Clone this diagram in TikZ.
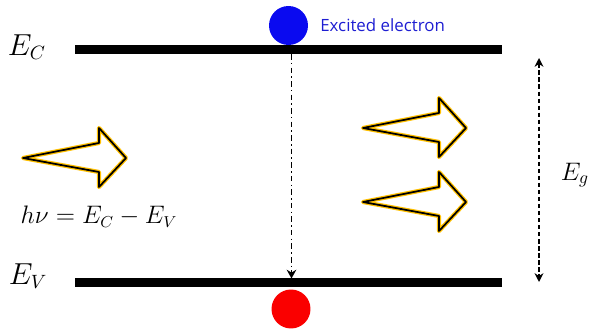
\documentclass[tikz,border=0pt]{standalone}
\usepackage{fontspec}
\usepackage{tikz}
\usetikzlibrary{calc,positioning,arrows.meta}
\newfontfamily\labelfont{Open Sans}
\definecolor{myblue}{RGB}{10,10,240}
\definecolor{myred}{RGB}{250,0,0}
\definecolor{mygold}{RGB}{255,192,0}
\definecolor{mytext}{RGB}{30,30,210}

\tikzset{
  band/.style={line width=5.1pt},
  carrier/.style={circle, inner sep=0pt, minimum size=0.78cm},
  photon/.style={line width=1pt, line join=round},
  glow/.style={line width=2.4pt, mygold, line join=round}
}

\begin{document}
\begin{tikzpicture}[x=0.02cm, y=-0.02cm]
  \useasboundingbox (0,0) rectangle (592,334);
  % bands
  \coordinate (cl) at (75,49.5);
  \coordinate (cr) at (502,49.5);
  \coordinate (vl) at (75,282.5);
  \coordinate (vr) at (502,282.5);
  \draw[band] (cl) -- (cr);
  \draw[band] (vl) -- (vr);
  \node (ec) at (27,47) {\fontsize{16}{19}\selectfont $E_C$};
  \node (ev) at (28,276) {\fontsize{16}{19}\selectfont $E_V$};
  % electron and hole
  \node[carrier, fill=myblue] (elec) at (288.5,25.5) {};
  \node[carrier, fill=myred] (hole) at (291,309) {};
  \node[anchor=west, text=mytext, inner sep=0pt] (lab) at (320,25)
    {\labelfont\fontsize{9.6}{11}\selectfont Excited electron};
  \coordinate (ctop) at (291.5,54);
  \coordinate (vtop) at (291.5,278.5);
  \draw[line width=0.9pt, dash pattern=on 3.2pt off 1.8pt on 0.9pt off 1.8pt, -{Stealth[length=5pt,width=5.5pt]}] (ctop) -- (vtop);
  % band gap
  \coordinate (gtop) at (539,58);
  \coordinate (gbot) at (539,282);
  \draw[line width=1pt, dash pattern=on 2.5pt off 1.5pt, {Stealth[length=5pt,width=5pt]}-{Stealth[length=5pt,width=5pt]}] (gtop) -- (gbot);
  \node (eg) at (575,175) {\fontsize{14}{17}\selectfont $E_g$};
  % photons
  \foreach \x/\y in {23/158, 363/128, 363/202} {
    \draw[glow, shift={(\x,\y)}] (0,0) -- (76,-15) -- (76,-30) -- (103,0) -- (76,29) -- (76,14) -- cycle;
    \draw[photon, shift={(\x,\y)}] (0,0) -- (76,-15) -- (76,-30) -- (103,0) -- (76,29) -- (76,14) -- cycle;
  }
  \node (hv) at (99,217) {\fontsize{13.5}{16}\selectfont $h\nu = E_C - E_V$};
\end{tikzpicture}
\end{document}
